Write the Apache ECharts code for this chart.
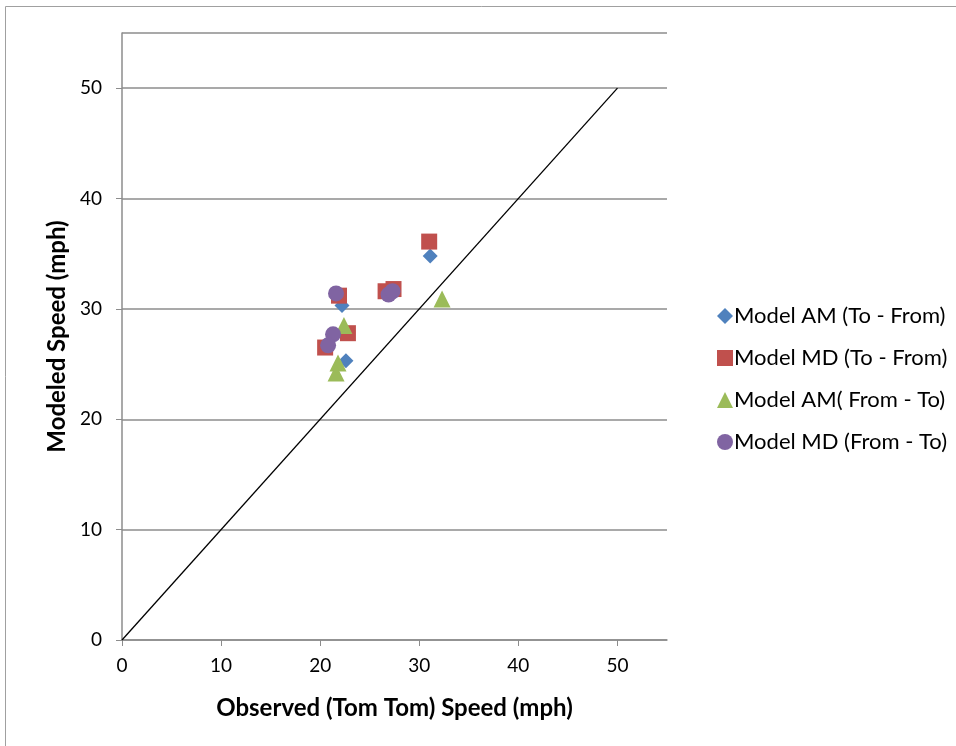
<!DOCTYPE html>
<html><head><meta charset="utf-8">
<script src="https://cdn.jsdelivr.net/npm/echarts@6/dist/echarts.min.js"></script>
<style>html,body{margin:0;padding:0;background:#fff}#c{width:956px;height:746px}</style>
</head><body><div id="c"></div>
<script>
const seriesNames = ['Model AM (To - From)', 'Model MD (To - From)', 'Model AM( From - To)', 'Model MD (From - To)'];
const amToFrom = [[31.1, 34.8], [22.2, 30.3], [22.6, 25.3], [27.2, 31.4]];
const mdToFrom = [[31.0, 36.1], [21.9, 31.2], [27.4, 31.8], [26.6, 31.6], [22.8, 27.8], [20.5, 26.5]];
const amFromTo = [[32.3, 30.9], [22.4, 28.5], [21.8, 25.1], [21.6, 24.2]];
const mdFromTo = [[21.6, 31.4], [26.9, 31.3], [27.3, 31.6], [21.3, 27.7], [20.8, 26.7]];
const identityLine = [[0, 0], [50, 50]];
const colors = ['#4F81BD', '#C0504D', '#9BBB59', '#8064A2'];
const font = 'Lato, "Open Sans", sans-serif';

const chart = echarts.init(document.getElementById('c'));
chart.setOption({
  animation: false,
  graphic: [{type: 'rect', shape: {x: 5.5, y: 6.5, width: 980, height: 780}, style: {fill: 'none', stroke: '#a0a0a0', lineWidth: 1}, z: -1}],
  grid: {left: 122, right: 289, top: 33, bottom: 106},
  legend: {
    orient: 'vertical', left: 712, top: 299, itemGap: 18, itemWidth: 16, itemHeight: 16,
    data: [
      {name: seriesNames[0], icon: 'diamond'},
      {name: seriesNames[1], icon: 'rect'},
      {name: seriesNames[2], icon: 'triangle'},
      {name: seriesNames[3], icon: 'circle'}
    ],
    textStyle: {fontFamily: font, fontSize: 22, lineHeight: 24, color: '#000', padding: [0, 0, 0, -4]}
  },
  xAxis: {
    type: 'value', min: 0, max: 55, interval: 10,
    name: 'Observed (Tom Tom) Speed (mph)', nameLocation: 'middle', nameGap: 56,
    nameTextStyle: {fontFamily: font, fontSize: 24, fontWeight: 'bold', color: '#000'},
    axisLine: {lineStyle: {color: '#8c8c8c', width: 1.5}},
    axisTick: {show: true, length: 6, lineStyle: {color: '#8c8c8c'}},
    axisLabel: {fontFamily: font, fontSize: 19, color: '#000', margin: 16, showMaxLabel: false},
    splitLine: {show: false}
  },
  yAxis: {
    type: 'value', min: 0, max: 55, interval: 10,
    name: 'Modeled Speed (mph)', nameLocation: 'middle', nameGap: 53,
    nameTextStyle: {fontFamily: font, fontSize: 24, fontWeight: 'bold', color: '#000'},
    axisLine: {show: true, lineStyle: {color: '#8c8c8c', width: 1.5}},
    axisTick: {show: true, length: 6, lineStyle: {color: '#8c8c8c'}},
    axisLabel: {fontFamily: font, fontSize: 19, color: '#000', margin: 20, showMaxLabel: false},
    splitLine: {show: true, lineStyle: {color: '#8c8c8c', width: 1.5}}
  },
  series: [
    {type: 'line', name: 'identity', data: identityLine, symbol: 'none', lineStyle: {color: '#000', width: 1.3}, z: 1, silent: true},
    {type: 'scatter', name: seriesNames[0], data: amToFrom, symbol: 'diamond', symbolSize: 15, itemStyle: {color: colors[0], opacity: 1}, z: 2},
    {type: 'scatter', name: seriesNames[1], data: mdToFrom, symbol: 'rect', symbolSize: 16, itemStyle: {color: colors[1], opacity: 1}, z: 3},
    {type: 'scatter', name: seriesNames[2], data: amFromTo, symbol: 'triangle', symbolSize: 17, itemStyle: {color: colors[2], opacity: 1}, z: 4},
    {type: 'scatter', name: seriesNames[3], data: mdFromTo, symbol: 'circle', symbolSize: 16, itemStyle: {color: colors[3], opacity: 1}, z: 5}
  ]
});
</script></body></html>
